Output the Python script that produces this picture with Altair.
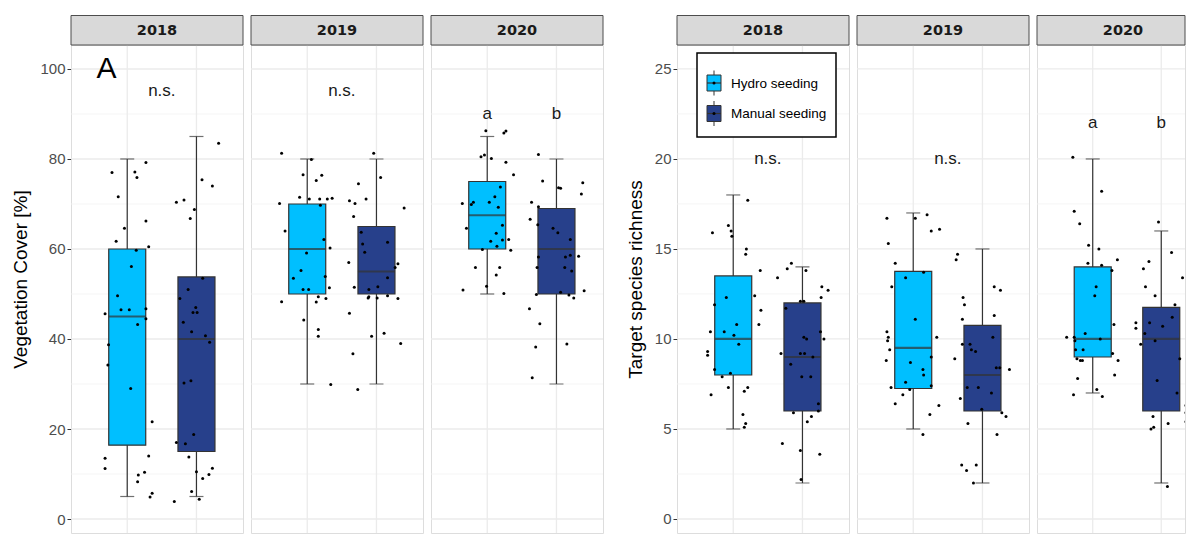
import altair as alt
import pandas as pd

years = ["2018", "2019", "2020"]
methods = ["Hydro seeding", "Manual seeding"]
method_pos = [1, 2]
box_colors = ["#00BFFF", "#27408B"]

# ---- box statistics (order: 2018 H, 2018 M, 2019 H, 2019 M, 2020 H, 2020 M)
box_year = ["2018", "2018", "2019", "2019", "2020", "2020"]
box_method = ["Hydro seeding", "Manual seeding"] * 3
cover_low = [5, 5, 30, 30, 50, 30]
cover_q1 = [16.4, 15.0, 50, 50, 60, 50]
cover_med = [45, 40, 60, 55, 67.5, 60]
cover_q3 = [60, 53.8, 70, 65, 75, 69]
cover_high = [80, 85, 80, 80, 85, 80]

rich_low = [5, 2, 5, 2, 7, 2]
rich_q1 = [8, 6, 7.25, 6, 9, 6]
rich_med = [10, 9, 9.5, 8, 10, 10]
rich_q3 = [13.5, 12, 13.75, 10.75, 14, 11.75]
rich_high = [18, 14, 17, 15, 20, 16]

# ---- raw observations (value and horizontal jitter)
cover_2018_hydro = [77.0, 77.1, 75.9, 79.2, 71.6, 66.2, 64.6, 61.7, 60.5, 59.7, 56.1, 49.6, 46.5, 46.5, 46.7, 45.6, 44.5, 43.2, 38.7, 34.2, 29.0, 21.6, 13.5, 14.0, 11.2, 9.8, 10.4, 8.3, 5.7, 4.9]
cover_2018_hydro_jit = [-0.22, 0.11, 0.14, 0.27, -0.13, 0.27, -0.04, -0.16, 0.31, 0.13, 0.06, -0.14, -0.09, 0.03, 0.27, -0.32, 0.27, 0.15, -0.27, -0.28, 0.05, 0.36, -0.32, 0.31, -0.32, 0.16, 0.25, 0.15, 0.36, 0.33]
cover_2018_manual = [83.5, 75.4, 74.0, 70.4, 70.9, 68.8, 66.8, 53.5, 51.0, 49.0, 47.0, 45.9, 45.9, 43.7, 41.6, 40.7, 39.3, 30.2, 30.7, 18.8, 17.0, 16.7, 13.8, 10.5, 9.0, 9.9, 11.3, 6.1, 4.4, 3.9]
cover_2018_manual_jit = [0.32, 0.08, 0.23, -0.29, -0.18, -0.03, -0.09, 0.09, -0.12, -0.24, -0.01, -0.05, 0.01, -0.19, -0.07, 0.13, 0.19, -0.18, -0.08, -0.04, -0.29, -0.16, -0.11, 0.0, 0.09, 0.18, 0.23, -0.07, 0.04, -0.32]
cover_2019_hydro = [81.3, 79.9, 76.5, 76.4, 75.2, 71.5, 71.1, 71.1, 71.1, 71.3, 70.1, 69.7, 64.0, 62.1, 60.2, 59.1, 55.2, 53.5, 53.9, 51.0, 51.0, 51.4, 49.4, 49.0, 48.3, 48.2, 44.2, 42.1, 40.6, 29.9]
cover_2019_hydro_jit = [-0.37, 0.06, -0.06, 0.21, 0.13, -0.11, 0.03, 0.18, 0.29, 0.36, -0.40, 0.19, -0.32, 0.24, 0.33, -0.01, -0.09, -0.20, 0.26, -0.06, 0.02, 0.32, 0.16, 0.27, -0.37, 0.13, -0.05, 0.16, 0.16, 0.34]
cover_2019_manual = [81.3, 75.9, 74.5, 71.1, 70.7, 70.1, 69.1, 67.2, 63.7, 61.5, 61.1, 59.3, 57.0, 56.7, 55.9, 53.6, 51.5, 51.6, 51.0, 49.4, 49.1, 49.1, 49.6, 49.0, 45.7, 40.6, 41.3, 39.0, 36.7, 28.8]
cover_2019_manual_jit = [-0.04, 0.06, -0.26, -0.15, -0.39, -0.31, 0.40, -0.33, -0.22, 0.16, -0.20, -0.17, -0.40, 0.31, 0.27, 0.16, -0.32, 0.02, -0.11, -0.11, -0.12, 0.01, 0.16, 0.31, -0.39, -0.07, 0.11, 0.35, -0.34, -0.27]
cover_2020_hydro = [86.3, 85.8, 86.2, 80.5, 80.9, 80.1, 79.3, 76.5, 73.8, 71.6, 70.1, 69.9, 70.4, 70.4, 69.3, 65.3, 64.6, 63.5, 61.7, 62.0, 62.1, 60.6, 59.7, 59.9, 55.9, 55.9, 54.2, 50.9, 51.7, 50.1]
cover_2020_hydro_jit = [-0.02, 0.24, 0.27, -0.09, -0.04, 0.06, 0.27, 0.38, 0.19, 0.11, -0.36, -0.23, -0.20, 0.03, 0.16, 0.22, -0.30, 0.13, 0.05, 0.22, 0.31, 0.14, 0.34, -0.07, -0.17, 0.18, 0.13, -0.35, -0.01, 0.24]
cover_2020_manual = [81.0, 75.1, 73.6, 73.5, 74.7, 72.2, 70.4, 69.4, 66.6, 65.4, 64.6, 63.6, 62.1, 58.4, 58.6, 58.2, 58.2, 55.9, 55.9, 55.1, 49.9, 50.4, 49.8, 49.1, 50.7, 46.7, 43.4, 38.9, 38.2, 31.4]
cover_2020_manual_jit = [-0.26, -0.20, 0.03, 0.06, 0.38, 0.36, -0.36, -0.26, -0.38, -0.27, -0.05, 0.02, 0.20, 0.32, 0.20, 0.13, -0.26, -0.28, 0.12, 0.22, -0.29, 0.06, 0.18, 0.25, 0.40, -0.39, -0.24, 0.15, -0.30, -0.35]

rich_2018_hydro = [17.7, 15.9, 16.3, 16.0, 15.7, 15.0, 14.7, 13.8, 12.3, 12.4, 11.9, 11.6, 10.8, 10.4, 10.4, 10.8, 10.2, 9.7, 9.3, 9.1, 8.3, 8.1, 7.9, 7.3, 7.3, 6.9, 7.1, 5.8, 5.3, 5.1]
rich_2018_hydro_jit = [0.21, -0.30, -0.07, -0.03, -0.02, 0.19, 0.18, 0.39, -0.10, 0.31, -0.27, 0.40, 0.37, -0.33, -0.13, 0.05, 0.01, 0.08, -0.37, -0.37, -0.27, -0.04, -0.16, 0.21, -0.07, -0.32, 0.16, 0.14, 0.18, 0.16]
rich_2018_manual = [14.2, 13.9, 13.8, 13.4, 12.9, 12.7, 12.3, 12.1, 12.1, 11.7, 10.4, 10.0, 10.1, 10.0, 9.2, 9.2, 9.2, 9.0, 8.6, 7.9, 7.9, 6.4, 6.0, 5.9, 5.7, 5.4, 4.2, 3.8, 3.6, 2.2]
rich_2018_manual_jit = [-0.16, -0.22, 0.05, -0.36, 0.28, 0.37, 0.27, -0.03, 0.02, -0.24, 0.26, 0.31, 0.02, 0.06, -0.31, -0.03, 0.03, 0.15, -0.17, -0.01, 0.12, 0.23, 0.23, -0.13, 0.13, 0.07, -0.29, -0.03, 0.25, -0.02]
rich_2019_hydro = [16.7, 16.7, 16.9, 16.0, 16.1, 15.3, 14.2, 13.7, 13.4, 12.9, 11.1, 10.4, 10.1, 9.9, 10.1, 9.4, 8.8, 8.7, 9.0, 8.3, 8.0, 7.6, 7.3, 7.4, 7.2, 6.9, 6.4, 6.3, 5.8, 4.7]
rich_2019_hydro_jit = [-0.38, 0.03, 0.20, 0.26, 0.38, -0.36, -0.26, 0.15, -0.11, -0.31, 0.03, -0.38, -0.36, -0.37, 0.34, -0.34, -0.39, -0.04, 0.26, 0.14, 0.15, -0.11, -0.32, 0.26, -0.05, -0.15, -0.26, 0.37, 0.24, 0.14]
rich_2019_manual = [14.7, 14.4, 12.9, 12.7, 12.3, 11.9, 11.1, 11.3, 10.1, 9.7, 9.7, 9.4, 9.3, 8.9, 8.4, 8.4, 8.3, 7.3, 7.3, 7.0, 6.7, 6.1, 5.9, 5.7, 5.3, 4.7, 3.0, 2.7, 3.0, 2.0]
rich_2019_manual_jit = [-0.36, -0.38, 0.17, 0.26, -0.28, -0.26, -0.29, 0.17, 0.15, -0.29, -0.18, -0.16, -0.10, -0.40, 0.20, 0.25, 0.39, -0.22, -0.06, 0.13, -0.32, -0.01, 0.28, 0.34, -0.21, 0.21, -0.30, -0.23, -0.09, -0.13]
rich_2020_hydro = [20.1, 18.2, 17.1, 16.4, 15.2, 15.0, 14.4, 14.2, 14.1, 13.8, 12.9, 12.4, 10.8, 10.3, 10.1, 10.1, 9.9, 10.0, 9.4, 9.4, 9.2, 8.9, 8.8, 8.8, 8.8, 8.0, 7.8, 7.2, 6.9, 6.8]
rich_2020_hydro_jit = [-0.29, 0.13, -0.27, -0.19, -0.06, 0.09, 0.36, -0.07, 0.13, 0.28, 0.05, 0.03, 0.31, -0.11, -0.38, -0.27, -0.26, 0.11, -0.25, -0.14, 0.29, -0.23, -0.18, -0.15, 0.37, 0.32, -0.22, 0.06, -0.28, 0.14]
rich_2020_manual = [16.5, 14.8, 14.3, 13.9, 13.4, 12.9, 12.4, 11.9, 11.2, 11.0, 10.9, 10.6, 10.9, 10.7, 10.3, 9.7, 9.9, 8.9, 7.7, 7.0, 6.3, 6.3, 5.9, 5.7, 5.3, 5.4, 5.1, 5.0, 4.3, 1.8]
rich_2020_manual_jit = [-0.04, 0.15, -0.18, -0.26, 0.31, -0.23, -0.09, 0.20, 0.16, 0.37, -0.37, -0.37, -0.17, 0.02, -0.24, -0.30, -0.09, 0.27, -0.06, 0.23, 0.36, 0.37, 0.36, -0.12, 0.10, 0.36, -0.11, -0.15, 0.37, 0.09]

# ---- annotations
ann_year = ["2018", "2019", "2020", "2020"]
ann_text = ["n.s.", "n.s.", "a", "b"]
ann_x = [1.5, 1.5, 1, 2]
cover_ann_y = [95, 95, 90, 90]
rich_ann_y = [20, 20, 22, 22]

cover_ticks = [0, 20, 40, 60, 80, 100]
cover_minor = [10, 30, 50, 70, 90]
rich_ticks = [0, 5, 10, 15, 20, 25]
rich_minor = [2.5, 7.5, 12.5, 17.5, 22.5]

# ---------------- build tables
pos_of = dict(zip(methods, method_pos))
obs = {
    ("cover", "2018", "Hydro seeding"): (cover_2018_hydro, cover_2018_hydro_jit),
    ("cover", "2018", "Manual seeding"): (cover_2018_manual, cover_2018_manual_jit),
    ("cover", "2019", "Hydro seeding"): (cover_2019_hydro, cover_2019_hydro_jit),
    ("cover", "2019", "Manual seeding"): (cover_2019_manual, cover_2019_manual_jit),
    ("cover", "2020", "Hydro seeding"): (cover_2020_hydro, cover_2020_hydro_jit),
    ("cover", "2020", "Manual seeding"): (cover_2020_manual, cover_2020_manual_jit),
    ("rich", "2018", "Hydro seeding"): (rich_2018_hydro, rich_2018_hydro_jit),
    ("rich", "2018", "Manual seeding"): (rich_2018_manual, rich_2018_manual_jit),
    ("rich", "2019", "Hydro seeding"): (rich_2019_hydro, rich_2019_hydro_jit),
    ("rich", "2019", "Manual seeding"): (rich_2019_manual, rich_2019_manual_jit),
    ("rich", "2020", "Hydro seeding"): (rich_2020_hydro, rich_2020_hydro_jit),
    ("rich", "2020", "Manual seeding"): (rich_2020_manual, rich_2020_manual_jit),
}
rows = []
for (meas, yr, m), (vals, jits) in obs.items():
    for v, j in zip(vals, jits):
        rows.append({"measure": meas, "year": yr, "method": m, "pos": pos_of[m], "jit": j, "value": v})
points_df = pd.DataFrame(rows)


def box_table(meas, low, q1, med, q3, high):
    return pd.DataFrame({"measure": meas, "year": box_year, "method": box_method,
                         "pos": [pos_of[m] for m in box_method],
                         "low": low, "q1": q1, "med": med, "q3": q3, "high": high})


box_df = pd.concat([box_table("cover", cover_low, cover_q1, cover_med, cover_q3, cover_high),
                    box_table("rich", rich_low, rich_q1, rich_med, rich_q3, rich_high)])

ann_df = pd.concat([
    pd.DataFrame({"measure": "cover", "year": ann_year, "label": ann_text, "x": ann_x, "y": cover_ann_y}),
    pd.DataFrame({"measure": "rich", "year": ann_year, "label": ann_text, "x": ann_x, "y": rich_ann_y}),
])

FONT = "Liberation Sans"
W, H = 172, 488
PX_PER_UNIT = W / 2.34
color_scale = alt.Scale(domain=methods, range=box_colors)

settings = {
    "cover": dict(domain=[-3.11, 105.33], ticks=cover_ticks, minor=cover_minor,
                  title="Vegetation Cover [%]", titleX=-45),
    "rich": dict(domain=[-0.778, 26.33], ticks=rich_ticks, minor=rich_minor,
                 title="Target species richness", titleX=-36),
}


def panel(meas, year, first, width=W):
    s = settings[meas]
    clip = width < W
    xscale = alt.Scale(domain=[0.26, 0.26 + width / PX_PER_UNIT], nice=False, zero=False)
    yscale = alt.Scale(domain=s["domain"], nice=False, zero=False)
    if first:
        yax = alt.Axis(values=s["ticks"], title=s["title"], grid=False, domain=False,
                       labelFontSize=15, labelColor="#4D4D4D", labelFont=FONT,
                       tickColor="#333333", tickSize=4, tickWidth=1, labelPadding=2,
                       titleFont=FONT, titleFontSize=19, titleFontWeight="normal",
                       titleColor="#000000", titleAngle=270, titleAlign="center",
                       titleBaseline="alphabetic", titleX=s["titleX"], titleY=234)
    else:
        yax = None

    pts = points_df[(points_df.measure == meas) & (points_df.year == year)]
    bx = box_df[(box_df.measure == meas) & (box_df.year == year)]
    an = ann_df[(ann_df.measure == meas) & (ann_df.year == year)]

    X = lambda f: alt.X(f, scale=xscale, axis=None)
    Y = lambda f: alt.Y(f, scale=yscale, axis=yax)

    minor = alt.Chart(pd.DataFrame({"g": s["minor"]})).mark_rule(
        color="#F2F2F2", strokeWidth=0.8).encode(y=Y("g:Q"))
    major = alt.Chart(pd.DataFrame({"g": s["ticks"]})).mark_rule(
        color="#EBEBEB", strokeWidth=1.3).encode(y=Y("g:Q"))
    vgrid = alt.Chart(pd.DataFrame({"g": method_pos})).mark_rule(
        color="#EBEBEB", strokeWidth=1.3).encode(x=X("g:Q"))
    whisk = alt.Chart(bx).mark_rule(color="#333333", strokeWidth=1.2).encode(
        x=X("pos:Q"), y=Y("low:Q"), y2="high:Q")
    cap_lo = alt.Chart(bx).mark_tick(orient="horizontal", size=14, thickness=1.2, color="#333333").encode(
        x=X("pos:Q"), y=Y("low:Q"))
    cap_hi = alt.Chart(bx).mark_tick(orient="horizontal", size=14, thickness=1.2, color="#333333").encode(
        x=X("pos:Q"), y=Y("high:Q"))
    boxes = alt.Chart(bx).mark_bar(size=37, stroke="#333333", strokeWidth=1.2, opacity=1).encode(
        x=X("pos:Q"), y=Y("q1:Q"), y2="q3:Q",
        color=alt.Color("method:N", scale=color_scale, legend=None))
    meds = alt.Chart(bx).mark_tick(orient="horizontal", size=37, thickness=2.2, color="#333333").encode(
        x=X("pos:Q"), y=Y("med:Q"))
    dots = alt.Chart(pts).transform_calculate(xj="datum.pos + datum.jit").mark_circle(
        size=9, color="#000000", opacity=1, clip=clip).encode(x=X("xj:Q"), y=Y("value:Q"))
    texts = alt.Chart(an).mark_text(font=FONT, fontSize=17, color="#1A1A1A", baseline="middle").encode(
        x=X("x:Q"), y=Y("y:Q"), text="label:N")

    hdr_df = pd.DataFrame({"year": [year]})
    strip = alt.Chart(hdr_df).mark_rect(fill="#D9D9D9", stroke="#4D4D4D", strokeWidth=1).encode(
        x=alt.value(0), x2=alt.value(width), y=alt.value(-29.5), y2=alt.value(0))
    strip_txt = alt.Chart(hdr_df).mark_text(font="DejaVu Sans", fontSize=14.5, fontWeight="bold",
                                            color="#1A1A1A", baseline="middle").encode(
        x=alt.value(W / 2), y=alt.value(-14.5), text="year:N")

    layers = [minor, major, vgrid, whisk, cap_lo, cap_hi, boxes, meds, dots, texts, strip, strip_txt]

    if meas == "cover" and year == "2018":
        tag_df = pd.DataFrame({"tag": ["A"], "x": [0.7], "y": [100]})
        layers.append(alt.Chart(tag_df).mark_text(font=FONT, fontSize=30, color="#000000",
                                                  baseline="middle").encode(
            x=X("x:Q"), y=Y("y:Q"), text="tag:N"))

    if meas == "rich" and year == "2018":
        leg_df = pd.DataFrame({"method": methods})
        layers.append(alt.Chart(leg_df.head(1)).mark_rect(fill="white", stroke="#000000", strokeWidth=1.5).encode(
            x=alt.value(20), x2=alt.value(159), y=alt.value(8), y2=alt.value(92)))
        for i, cy in enumerate([38, 68.5]):
            d = leg_df.iloc[[i]]
            layers.append(alt.Chart(d).mark_rule(color="#333333", strokeWidth=1).encode(
                x=alt.value(37), y=alt.value(cy - 12.5), y2=alt.value(cy + 12.5)))
            layers.append(alt.Chart(d).mark_rect(stroke="#333333", strokeWidth=1).encode(
                x=alt.value(30), x2=alt.value(44), y=alt.value(cy - 8), y2=alt.value(cy + 8),
                color=alt.Color("method:N", scale=color_scale, legend=None)))
            layers.append(alt.Chart(d).mark_rule(color="#333333", strokeWidth=1.2).encode(
                x=alt.value(30), x2=alt.value(44), y=alt.value(cy)))
            layers.append(alt.Chart(d).mark_circle(size=9, color="#000000", opacity=1).encode(
                x=alt.value(37), y=alt.value(cy)))
            layers.append(alt.Chart(d).mark_text(font=FONT, fontSize=13.5, color="#000000",
                                                 align="left", baseline="middle").encode(
                x=alt.value(54), y=alt.value(cy + 0.7), text="method:N"))

    return alt.layer(*layers).properties(width=width, height=H)


# invisible gap between the two figure halves
gap = alt.Chart(pd.DataFrame({"g": [0]})).mark_point(opacity=0).encode(
    x=alt.X("g:Q", axis=None), y=alt.Y("g:Q", axis=None)
).properties(width=58, height=H, view=alt.ViewBackground(strokeOpacity=0))

chart = alt.hconcat(
    panel("cover", "2018", True), panel("cover", "2019", False), panel("cover", "2020", False),
    gap,
    panel("rich", "2018", True), panel("rich", "2019", False), panel("rich", "2020", False, width=148),
    spacing=8, bounds="flush",
).properties(
    padding={"left": 2, "top": 6, "right": 0, "bottom": 0}
).configure_view(stroke="#4D4D4D", strokeWidth=1).configure(background="white")

chart.save("out.html", embed_options={"renderer": "svg", "actions": False})
